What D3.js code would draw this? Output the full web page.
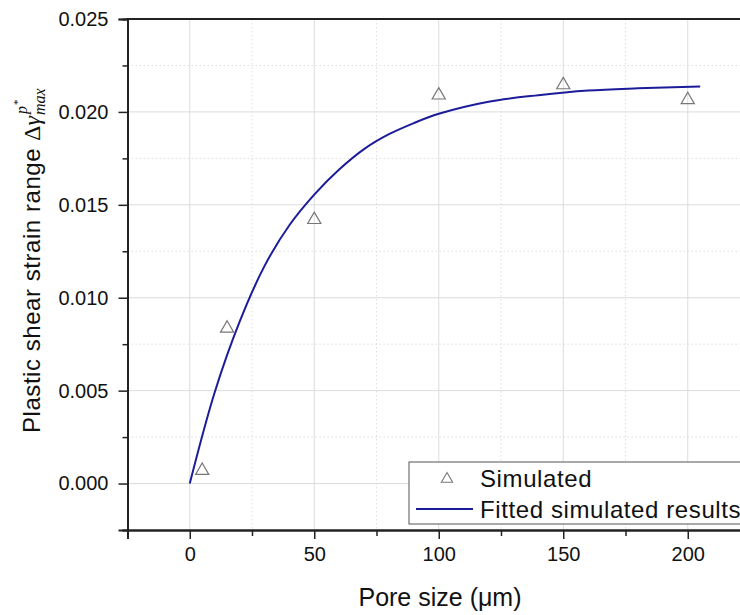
<!DOCTYPE html>
<html>
<head>
<meta charset="utf-8">
<script src="https://cdn.jsdelivr.net/npm/d3@7"></script>
<style>
  body { margin: 0; background: #fff; }
  svg { display: block; font-family: "Liberation Sans", Arial, sans-serif; }
</style>
</head>
<body>
<div id="chart"></div>
<script>
// Simulated points
const poreSize  = [5, 15, 50, 100, 150, 200];
const strainSim = [0.0007, 0.00835, 0.0142, 0.0209, 0.02145, 0.02065];

// Fitted curve
const fitX = [0, 10, 20, 30, 40, 50, 60, 70, 80, 90, 100, 120, 140, 160, 180, 205];
const fitY = [0, 0.0049, 0.0087, 0.0117, 0.0139, 0.01555, 0.0169, 0.0180,
              0.0188, 0.0194, 0.0199, 0.02055, 0.0209, 0.02115, 0.02127, 0.02137];

const xTicks      = [0, 50, 100, 150, 200];
const xMinorTicks = [-25, 25, 75, 125, 175, 225];
const yTicks      = [0, 0.005, 0.010, 0.015, 0.020, 0.025];
const yMinorTicks = [-0.0025, 0.0025, 0.0075, 0.0125, 0.0175, 0.0225];

const legendLabels = ["Simulated", "Fitted simulated results"];

const width = 740, height = 615;
const plotLeft = 127.5, plotTop = 19, plotBottom = 530;

const svg = d3.select("#chart").append("svg")
  .attr("width", width)
  .attr("height", height);

const x = d3.scaleLinear().domain([-25, 225]).range([plotLeft, plotLeft + 622.5]);
const y = d3.scaleLinear().domain([-0.0025, 0.025]).range([plotBottom, plotTop]);

// Grid
const grid = svg.append("g");
grid.selectAll(".vmin").data(xMinorTicks.filter(d => d > -25)).join("line")
  .attr("x1", d => x(d)).attr("x2", d => x(d))
  .attr("y1", plotTop).attr("y2", plotBottom)
  .attr("stroke", "#dedede").attr("stroke-dasharray", "1.5,2.5");
grid.selectAll(".hmin").data(yMinorTicks.filter(d => d > -0.0025)).join("line")
  .attr("x1", plotLeft).attr("x2", width)
  .attr("y1", d => y(d)).attr("y2", d => y(d))
  .attr("stroke", "#dedede").attr("stroke-dasharray", "1.5,2.5");
grid.selectAll(".vmaj").data(xTicks).join("line")
  .attr("x1", d => x(d)).attr("x2", d => x(d))
  .attr("y1", plotTop).attr("y2", plotBottom)
  .attr("stroke", "#dcdcdc");
grid.selectAll(".hmaj").data(yTicks.slice(0, -1)).join("line")
  .attr("x1", plotLeft).attr("x2", width)
  .attr("y1", d => y(d)).attr("y2", d => y(d))
  .attr("stroke", "#dcdcdc");

// Fitted line
const line = d3.line()
  .x((d, i) => x(fitX[i]))
  .y(d => y(d))
  .curve(d3.curveCatmullRom.alpha(0.5));

svg.append("path")
  .datum(fitY)
  .attr("fill", "none")
  .attr("stroke", "#1c1c9a")
  .attr("stroke-width", 2)
  .attr("d", line);

// Triangles
const tri = d3.symbol().type(d3.symbolTriangle).size(75);
svg.selectAll(".pt").data(strainSim).join("path")
  .attr("transform", (d, i) => `translate(${x(poreSize[i])},${y(d)})`)
  .attr("d", tri)
  .attr("fill", "none")
  .attr("stroke", "#777")
  .attr("stroke-width", 1.2);

// Axes
const fmt = d3.format(".3f");
svg.append("g")
  .attr("transform", `translate(${plotLeft},0)`)
  .call(d3.axisLeft(y).tickValues(yTicks).tickFormat(fmt).tickSize(9).tickPadding(10));
svg.append("g")
  .attr("transform", `translate(${plotLeft},0)`)
  .call(d3.axisLeft(y).tickValues(yMinorTicks).tickFormat("").tickSize(5));

svg.append("g")
  .attr("transform", `translate(0,${plotBottom})`)
  .call(d3.axisBottom(x).tickValues(xTicks).tickSize(9).tickPadding(8));
svg.append("g")
  .attr("transform", `translate(0,${plotBottom})`)
  .call(d3.axisBottom(x).tickValues(xMinorTicks).tickFormat("").tickSize(6));

svg.selectAll(".domain").attr("stroke", "#222").attr("stroke-width", 2);
svg.selectAll(".tick line").attr("stroke", "#222").attr("stroke-width", 1.5);
svg.selectAll(".tick text").attr("fill", "#111").style("font-size", "20px")
  .style("font-family", "'Liberation Sans', Arial, sans-serif");

// Top border
svg.append("line")
  .attr("x1", plotLeft - 1).attr("x2", width)
  .attr("y1", plotTop).attr("y2", plotTop)
  .attr("stroke", "#222").attr("stroke-width", 2);

// X title
svg.append("text")
  .attr("x", 440).attr("y", 606)
  .attr("text-anchor", "middle")
  .style("font-size", "25px")
  .attr("fill", "#111")
  .text("Pore size (\u03bcm)");

// Y title with math
const yt = svg.append("g").attr("transform", "translate(40,433) rotate(-90)");
const plain = yt.append("text")
  .attr("x", 0).attr("y", 0)
  .style("font-size", "24px")
  .style("letter-spacing", "0.55px")
  .attr("fill", "#111")
  .text("Plastic shear strain range");
const w0 = plain.node().getComputedTextLength() + 7;
const mathFont = "'Liberation Serif', 'DejaVu Serif', serif";
const dg = yt.append("text")
  .attr("x", w0).attr("y", 0)
  .style("font-size", "24px")
  .style("font-family", mathFont)
  .attr("fill", "#111");
dg.append("tspan").text("\u0394");
dg.append("tspan").style("font-style", "italic").text("\u03b3");
const w1 = dg.node().getComputedTextLength();
yt.append("text")
  .attr("x", w0 + w1 + 1).attr("y", 5)
  .style("font-size", "16px")
  .style("font-family", mathFont)
  .style("font-style", "italic")
  .attr("fill", "#111")
  .text("max");
yt.append("text")
  .attr("x", w0 + w1 + 2).attr("y", -13)
  .style("font-size", "16px")
  .style("font-family", mathFont)
  .style("font-style", "italic")
  .attr("fill", "#111")
  .text("p");
yt.append("text")
  .attr("x", w0 + w1 + 11).attr("y", -19)
  .style("font-size", "11px")
  .style("font-family", mathFont)
  .attr("fill", "#111")
  .text("*");

// Legend
const lg = svg.append("g").attr("transform", "translate(409,462)");
lg.append("rect")
  .attr("width", 340).attr("height", 62)
  .attr("fill", "#fff")
  .attr("stroke", "#555").attr("stroke-width", 1);
lg.append("path")
  .attr("transform", "translate(38,17)")
  .attr("d", d3.symbol().type(d3.symbolTriangle).size(55)())
  .attr("fill", "none").attr("stroke", "#777").attr("stroke-width", 1.1);
lg.append("line")
  .attr("x1", 7).attr("x2", 64).attr("y1", 47).attr("y2", 47)
  .attr("stroke", "#1c1c9a").attr("stroke-width", 2);
lg.selectAll(".lt").data(legendLabels).join("text")
  .attr("x", 71)
  .attr("y", (d, i) => 25 + i * 31)
  .style("font-size", "24px")
  .style("letter-spacing", "0.6px")
  .attr("fill", "#111")
  .text(d => d);
</script>
</body>
</html>
